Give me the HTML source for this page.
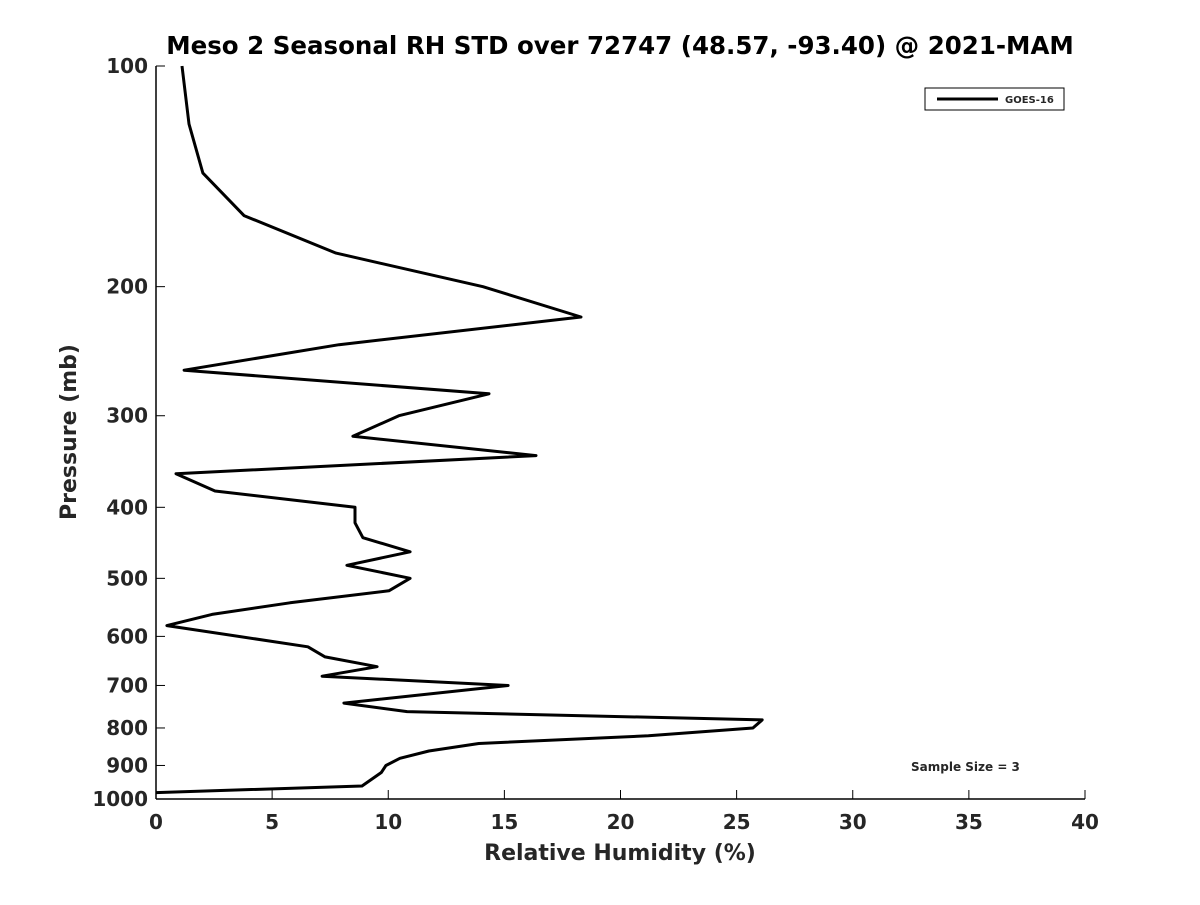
<!DOCTYPE html>
<html><head><meta charset="utf-8"><style>
body{margin:0;background:#fff;}
svg text{font-family:"DejaVu Sans","Liberation Sans",sans-serif;font-weight:bold;fill:#262626;}
</style></head><body>
<svg id="chart" width="1200" height="900" xmlns="http://www.w3.org/2000/svg">
<rect width="1200" height="900" fill="#fff"/>
<text x="620" y="54" text-anchor="middle" font-size="24.5" style="fill:#000">Meso 2 Seasonal RH STD over 72747 (48.57, -93.40) @ 2021-MAM</text>
<g id="axes"></g>
<path id="line" fill="none" stroke="#000" stroke-width="3" stroke-linejoin="round"/>
<g>
<rect x="925" y="88" width="139" height="22" fill="#fff" stroke="#000" stroke-width="1"/>
<line x1="937" y1="99" x2="998" y2="99" stroke="#000" stroke-width="3"/>
<text x="1005" y="103" font-size="10">GOES-16</text>
</g>
<text x="911" y="771" font-size="12">Sample Size = 3</text>
<text x="620" y="860" text-anchor="middle" font-size="22">Relative Humidity (%)</text>
<text transform="translate(76,432) rotate(-90)" text-anchor="middle" font-size="22">Pressure (mb)</text>
</svg>
<script>
const pressures=[100,120,140,160,180,200,220,240,260,280,300,320,340,360,380,400,420,440,460,480,500,520,540,560,580,620,640,660,680,700,740,760,780,800,820,840,860,880,900,920,960,980];
const rhStd=[1.12,1.42,2.02,3.79,7.75,14.08,18.3,7.88,1.21,14.34,10.46,8.48,16.36,0.86,2.54,8.57,8.57,8.91,10.94,8.22,10.94,10.03,5.77,2.41,0.47,6.54,7.28,9.52,7.15,15.16,8.09,10.81,26.1,25.7,21.2,13.9,11.75,10.5,9.9,9.7,8.87,0];
const xTicks=[0,5,10,15,20,25,30,35,40];
const yTicks=[100,200,300,400,500,600,700,800,900,1000];
const X0=156,X1=1085,Y0=66,Y1=799;
const xs=v=>X0+(v-0)/(40-0)*(X1-X0);
const ys=p=>Y0+(Math.log10(p)-2)/1*(Y1-Y0);
const NS="http://www.w3.org/2000/svg";
const ax=document.getElementById('axes');
function mk(t,a){const e=document.createElementNS(NS,t);for(const k in a)e.setAttribute(k,a[k]);ax.appendChild(e);return e;}
let e=mk('line',{x1:X0,y1:Y0,x2:X0,y2:Y1,stroke:'#000','stroke-width':1.5});


e=mk('line',{x1:X0,y1:Y1,x2:X1,y2:Y1,stroke:'#000','stroke-width':1.5});


xTicks.forEach(v=>{
 const x=xs(v);
 mk('line',{x1:x,y1:Y1,x2:x,y2:Y1-9,stroke:'#000','stroke-width':1});
 const t=mk('text',{x:x,y:Y1+30,'text-anchor':'middle','font-size':20});
 t.textContent=v;
 
 
});
yTicks.forEach(p=>{
 const y=ys(p);
 mk('line',{x1:X0,y1:y,x2:X0+9,y2:y,stroke:'#000','stroke-width':1});
 const t=mk('text',{x:X0-8,y:y+7,'text-anchor':'end','font-size':20});
 t.textContent=p;
 
 
});
document.getElementById('line').setAttribute('d',pressures.map((p,i)=>(i?'L':'M')+xs(rhStd[i]).toFixed(1)+','+ys(p).toFixed(1)).join(''));
</script>
</body></html>
